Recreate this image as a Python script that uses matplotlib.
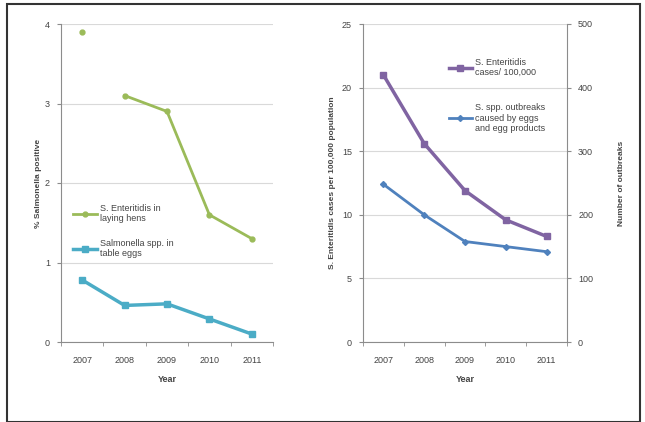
import matplotlib
matplotlib.use("Agg")
import matplotlib.pyplot as plt
import numpy as np
from matplotlib.patches import Rectangle

plt.rcParams['font.family'] = ['Liberation Sans', 'DejaVu Sans']

years = ["2007", "2008", "2009", "2010", "2011"]
se_hens = [3.9, 3.1, 2.9, 1.6, 1.3]
spp_eggs = [0.78, 0.46, 0.48, 0.29, 0.10]
se_cases = [21.0, 15.6, 11.9, 9.6, 8.3]
outbreaks = [248, 200, 158, 150, 142]

W, H = 645, 422
fig = plt.figure(figsize=(W / 100, H / 100), dpi=100)
fig.patches.append(Rectangle((7 / W, 0), 633 / W, 1 - 4 / H, transform=fig.transFigure,
                             fill=False, edgecolor='#333333', lw=1.5))

GRID = '#d9d9d9'
SPINE = '#8c8c8c'
TXT = '#444444'
FS = 6.5

def style(ax, ymax, step):
    x = np.arange(len(years))
    ax.set_xlim(-0.5, len(years) - 0.5)
    ax.set_ylim(0, ymax)
    ax.set_yticks(np.arange(0, ymax + step / 2, step))
    ax.set_xticks(x)
    ax.set_xticklabels(years)
    ax.set_xticks(np.arange(-0.5, len(years), 1), minor=True)
    ax.tick_params(axis='x', which='major', length=0, labelsize=FS, colors=TXT, pad=10)
    ax.tick_params(axis='x', which='minor', length=3, color=SPINE, direction='out')
    ax.tick_params(axis='y', length=3, color=SPINE, labelsize=FS, colors=TXT, pad=5)
    ax.yaxis.grid(True, color=GRID, lw=0.8)
    ax.set_axisbelow(True)
    for s in ['top', 'right']:
        ax.spines[s].set_visible(False)
    for s in ['left', 'bottom']:
        ax.spines[s].set_color(SPINE)
    ax.set_xlabel('Year', fontsize=FS, fontweight='bold', color=TXT, labelpad=7)

# Left panel
ax1 = fig.add_axes([61 / W, 1 - 342 / H, 212 / W, 318 / H])
style(ax1, 4, 1)
x = np.arange(len(years))
green = '#9bbb59'
aqua = '#4bacc6'
ax1.plot(x[:1], se_hens[:1], color=green, marker='o', ms=3.5, lw=0)
ax1.plot(x[1:], se_hens[1:], color=green, marker='o', ms=3.5, lw=2,
         label='S. Enteritidis in\nlaying hens')
ax1.plot(x, spp_eggs, color=aqua, marker='s', ms=4, lw=2.5,
         label='Salmonella spp. in\ntable eggs')
ax1.set_ylabel('% Salmonella positive', fontsize=FS - 0.5, fontweight='bold', color=TXT, labelpad=2)
ax1.legend(loc='upper left', bbox_to_anchor=(0.02, 0.46), frameon=False, fontsize=FS,
           handlelength=2.6, handletextpad=0.3, labelspacing=1.7, labelcolor=TXT)

# Right panel
ax2 = fig.add_axes([363 / W, 1 - 342 / H, 204 / W, 318 / H])
style(ax2, 25, 5)
purple = '#8064a2'
blue = '#4f81bd'
l1, = ax2.plot(x, se_cases, color=purple, marker='s', ms=4, lw=2.5,
               label='S. Enteritidis\ncases/ 100,000')
ax2.set_ylabel('S. Enteritidis cases per 100,000 population', fontsize=FS - 0.5,
               fontweight='bold', color=TXT, labelpad=4)
ax3 = ax2.twinx()
ax3.set_ylim(0, 500)
ax3.set_yticks(np.arange(0, 501, 100))
ax3.tick_params(axis='y', length=3, color=SPINE, labelsize=FS, colors=TXT, pad=5)
for s in ['top', 'left', 'bottom']:
    ax3.spines[s].set_visible(False)
ax3.spines['right'].set_color(SPINE)
l2, = ax3.plot(x, outbreaks, color=blue, marker='D', ms=3, lw=2,
               label='S. spp. outbreaks\ncaused by eggs\nand egg products')
ax3.set_ylabel('Number of outbreaks', fontsize=FS - 0.5, fontweight='bold', color=TXT,
               labelpad=18)
ax3.legend(handles=[l1, l2], loc='upper left', bbox_to_anchor=(0.38, 0.92), frameon=False,
           fontsize=FS, handlelength=2.6, handletextpad=0.3, labelspacing=2.9, labelcolor=TXT)

fig.savefig('out.png', dpi=100)
